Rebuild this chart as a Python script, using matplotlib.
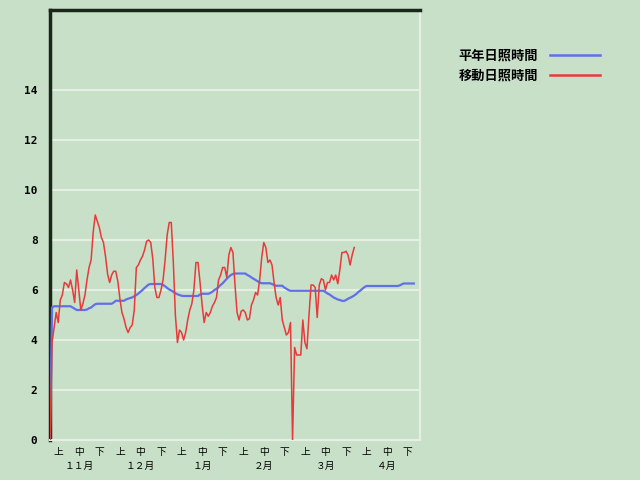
import matplotlib
matplotlib.use("Agg")
import matplotlib.pyplot as plt

plt.rcParams['font.family'] = ['Noto Sans CJK JP', 'DejaVu Sans']

# 平年日照時間 (daily, from 11/1)
normal = [
    0, 5.3, 5.35, 5.35, 5.35, 5.35, 5.35, 5.35, 5.35, 5.35,
    5.35, 5.3, 5.25, 5.2, 5.2, 5.2, 5.2, 5.2, 5.22, 5.27,
    5.3, 5.37, 5.43, 5.45, 5.45, 5.45, 5.45, 5.45, 5.45, 5.45,
    5.45, 5.5, 5.57, 5.57, 5.57, 5.57, 5.57, 5.62, 5.65, 5.68,
    5.7, 5.75, 5.8, 5.86, 5.93, 6.0, 6.08, 6.15, 6.22, 6.24,
    6.24, 6.24, 6.24, 6.24, 6.24, 6.2, 6.15, 6.08, 6.02, 5.98,
    5.93, 5.87, 5.83, 5.8, 5.77, 5.76, 5.76, 5.76, 5.76, 5.76,
    5.76, 5.76, 5.76, 5.82, 5.85, 5.85, 5.85, 5.85, 5.88, 5.93,
    6.0, 6.05, 6.12, 6.2, 6.27, 6.36, 6.45, 6.53, 6.6, 6.64,
    6.66, 6.66, 6.66, 6.66, 6.66, 6.66, 6.6, 6.56, 6.5, 6.45,
    6.4, 6.35, 6.3, 6.27, 6.27, 6.27, 6.27, 6.27, 6.24, 6.2,
    6.17, 6.17, 6.17, 6.17, 6.1, 6.05, 6.0, 5.97, 5.97, 5.97,
    5.97, 5.97, 5.97, 5.97, 5.97, 5.97, 5.97, 5.97, 5.97, 5.97,
    5.97, 5.97, 5.97, 5.97, 5.92, 5.86, 5.82, 5.76, 5.7, 5.66,
    5.62, 5.6, 5.57, 5.56, 5.6, 5.65, 5.69, 5.73, 5.78, 5.84,
    5.92, 5.98, 6.05, 6.12, 6.16, 6.16, 6.16, 6.16, 6.16, 6.16,
    6.16, 6.16, 6.16, 6.16, 6.16, 6.16, 6.16, 6.16, 6.16, 6.16,
    6.18, 6.22, 6.26, 6.26, 6.26, 6.26, 6.26, 6.26,
]

# 移動日照時間
moving = [
    0, 3.9, 4.5, 5.1, 4.7, 5.6, 5.8, 6.3, 6.25, 6.1,
    6.4, 6.0, 5.5, 6.8, 6.0, 5.2, 5.45, 5.8, 6.4, 6.9,
    7.2, 8.3, 9.0, 8.75, 8.5, 8.1, 7.9, 7.35, 6.65, 6.3,
    6.6, 6.75, 6.75, 6.35, 5.65, 5.1, 4.85, 4.5, 4.3, 4.5,
    4.6, 5.2, 6.9, 7.0, 7.2, 7.35, 7.6, 7.95, 8.0, 7.9,
    7.25, 6.1, 5.7, 5.7, 6.0, 6.4, 7.2, 8.2, 8.7, 8.7,
    7.1, 5.0, 3.9, 4.4, 4.3, 4.0, 4.3, 4.8, 5.2, 5.45,
    6.0, 7.1, 7.1, 6.3, 5.4, 4.7, 5.1, 4.95, 5.1, 5.35,
    5.5, 5.7, 6.4, 6.6, 6.9, 6.9, 6.5, 7.4, 7.7, 7.5,
    6.2, 5.1, 4.8, 5.15, 5.2, 5.1, 4.8, 4.85, 5.4, 5.6,
    5.9, 5.8, 6.4, 7.3, 7.9, 7.7, 7.1, 7.2, 7.0, 6.3,
    5.7, 5.4, 5.7, 4.8, 4.5, 4.2, 4.3, 4.7, 0.0, 3.7,
    3.4, 3.4, 3.4, 4.8, 3.9, 3.65, 5.0, 6.2, 6.2, 6.1,
    4.9, 6.2, 6.45, 6.4, 6.0, 6.3, 6.3, 6.6, 6.4, 6.6,
    6.25, 6.8, 7.5, 7.5, 7.55, 7.4, 7.0, 7.4, 7.7,
]

decade_labels = ['上', '中', '下'] * 6
month_labels = ['１１月', '１２月', '１月', '２月', '３月', '４月']
yticks = [0, 2, 4, 6, 8, 10, 12, 14]

bg = '#c8e0c8'
grid_c = '#e6efe4'

fig = plt.figure(figsize=(6.4, 4.8), dpi=100, facecolor=bg)
ax = fig.add_axes([50 / 640, 40 / 480, 370 / 640, 430 / 480], facecolor=bg)

ax.plot(range(len(normal)), normal, color='#6070e8', lw=1.6, label='平年日照時間', zorder=3)
ax.plot(range(len(moving)), moving, color='#e83a3a', lw=1.1, label='移動日照時間', zorder=4)

ax.set_xlim(0, 180)
ax.set_ylim(0, 17.2)
ax.set_yticks(yticks)
ax.set_yticklabels([str(v) for v in yticks], fontsize=8, fontweight='bold',
                   family='DejaVu Sans Mono')
for v in yticks[1:]:
    ax.axhline(v, color=grid_c, lw=1.5, zorder=1)

ax.set_xticks([4 + 10 * k for k in range(18)])
ax.set_xticklabels(decade_labels, fontsize=7)
for k, m in enumerate(month_labels):
    ax.text(14 + 30 * k, -0.06, m, transform=ax.get_xaxis_transform(),
            ha='center', va='center', fontsize=7)
ax.tick_params(length=0, pad=5)
ax.tick_params(axis='y', pad=9)

ax.spines['left'].set_color('#1a261a')
ax.spines['left'].set_linewidth(2.5)
ax.spines['top'].set_color('#1a261a')
ax.spines['top'].set_linewidth(2.5)
ax.spines['right'].set_color(grid_c)
ax.spines['right'].set_linewidth(1.5)
ax.spines['bottom'].set_color(grid_c)
ax.spines['bottom'].set_linewidth(1.5)

leg = fig.legend(loc='upper left', bbox_to_anchor=(447 / 640, 1 - 37 / 480),
                 frameon=False, markerfirst=False, handlelength=3.8,
                 prop={'size': 9.5, 'weight': 'bold'}, labelspacing=0.45,
                 handletextpad=0.9)
for h in leg.get_lines():
    h.set_linewidth(1.8)

fig.savefig('out.png', dpi=100, facecolor=bg)
